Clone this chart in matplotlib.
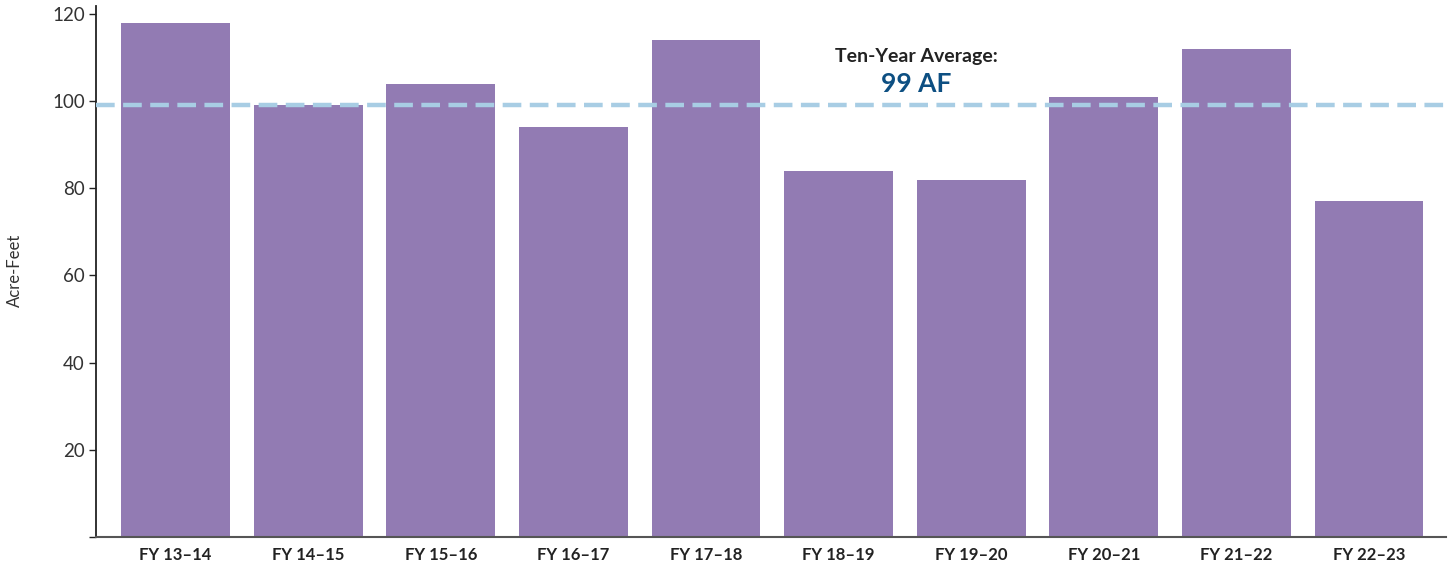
import matplotlib
matplotlib.use("Agg")
import matplotlib.pyplot as plt

# Annual volumes in acre-feet
categories = ["FY 13–14", "FY 14–15", "FY 15–16", "FY 16–17", "FY 17–18",
              "FY 18–19", "FY 19–20", "FY 20–21", "FY 21–22", "FY 22–23"]
values = [118, 99, 104, 94, 114, 84, 82, 101, 112, 77]
average = 99
yticks = [20, 40, 60, 80, 100, 120]

plt.rcParams["font.family"] = ["Lato", "DejaVu Sans"]

fig = plt.figure(figsize=(14.53, 5.62), dpi=100)
ax = fig.add_axes([96 / 1453, 25 / 562, (1446 - 96) / 1453, (556 - 25) / 562])

x = list(range(len(categories)))
ax.bar(x, values, width=0.82, color="#927BB3", zorder=2)
ax.axhline(average, color="#A8CDE4", lw=3.2, ls=(0, (4.2, 1.9)), zorder=3)

ax.set_xlim(-0.6, 9.58)
ax.set_ylim(0, 121.8)
ax.set_yticks([0] + yticks)
ax.set_yticklabels([""] + [str(t) for t in yticks], fontsize=13.5, color="#333333")
ax.set_xticks(x)
ax.set_xticklabels(categories, fontsize=12, fontweight="bold", color="#222222")
ax.tick_params(axis="x", length=0, pad=7)
ax.tick_params(axis="y", length=5, width=1, color="#222222", pad=3)

for side in ("top", "right"):
    ax.spines[side].set_visible(False)
ax.spines["left"].set_color("#222222")
ax.spines["left"].set_linewidth(1.3)
ax.spines["bottom"].set_color("#555555")
ax.spines["bottom"].set_linewidth(1.5)

fig.text(15 / 1453, 1 - 270 / 562, "Acre-Feet", rotation=90, ha="center",
         va="center", fontsize=12, color="#333333")

ax.text(5.585, 110.2, "Ten-Year Average:", ha="center", va="center",
        fontsize=14, fontweight="bold", color="#222222", zorder=4)
ax.text(5.585, 103.8, f"{average} AF", ha="center", va="center",
        fontsize=19, fontweight="bold", color="#0D4F82", zorder=4)

fig.savefig("out.png", dpi=100)
